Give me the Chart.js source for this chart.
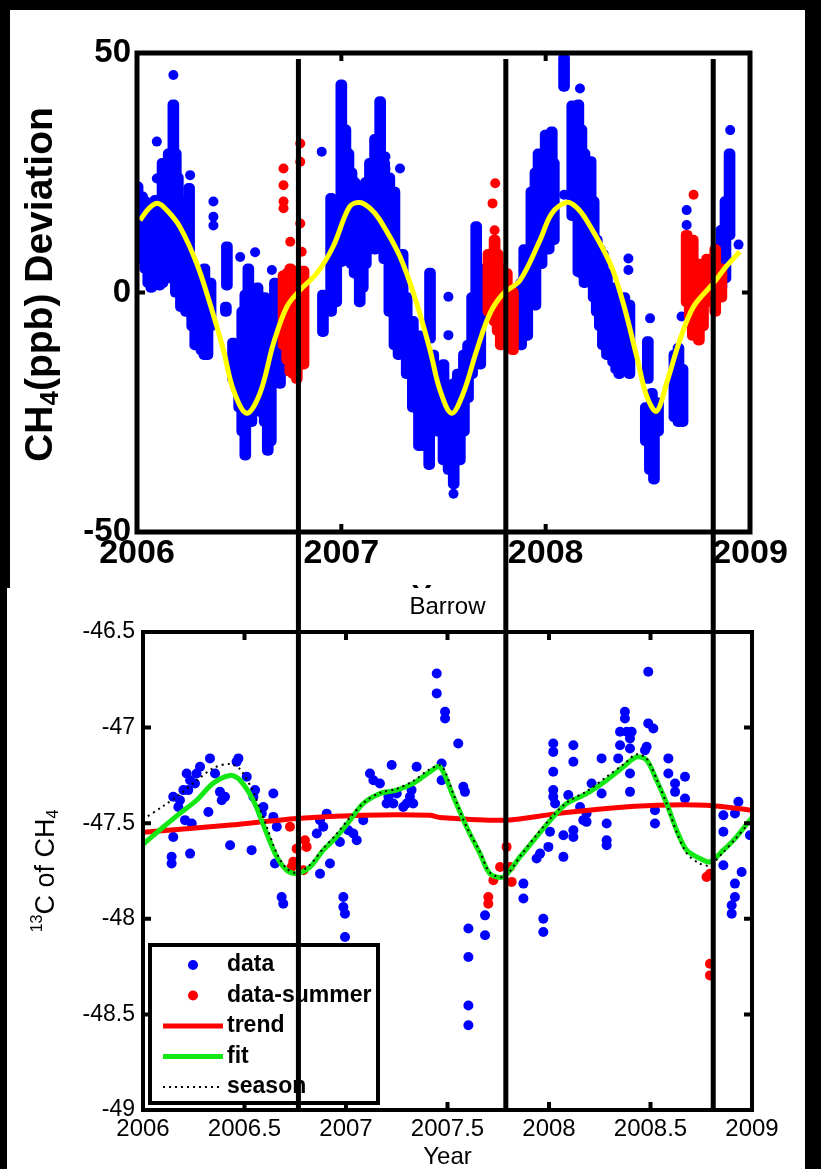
<!DOCTYPE html>
<html>
<head>
<meta charset="utf-8">
<script src="https://cdn.jsdelivr.net/npm/chart.js@4.4.1/dist/chart.umd.min.js"></script>
<style>
  html, body { margin: 0; padding: 0; background: #000; }
  body { width: 821px; height: 1169px; position: relative; overflow: hidden; }
  #topWrap { position: absolute; left: 10px; top: 10px; width: 795px; height: 578px; background: #fff; }
  #botWrap { position: absolute; left: 7px; top: 588px; width: 798px; height: 581px; background: #fff; }
  canvas { display: block; }
</style>
</head>
<body>
<div id="topWrap"><canvas id="topChart" width="795" height="578"></canvas></div>
<div id="botWrap"><canvas id="botChart" width="798" height="581"></canvas></div>
<script>
// ---- top panel: CH4 deviation (ppb) ----
const topYearTicks = [2006, 2007, 2008, 2009];
const topDevTicks = [-50, 0, 50];
// the three black vertical lines (year on the top panel scale)
const cutYears = [2006.79, 2007.805, 2008.82];

// vertical runs of overlapping dots: [year, low, high]
const blueStreaks = [
  [2006.003, 6.1, 23.1], [2006.025, 8, 21], [2006.04, 4, 20], [2006.055, 1, 19],
  [2006.07, 0, 18], [2006.09, 2, 20.3], [2006.11, 0.5, 16], [2006.125, 1, 28],
  [2006.14, 2, 22], [2006.155, 2, 30], [2006.178, 2, 40.2], [2006.19, -1, 30],
  [2006.20, 3, 25], [2006.215, -4, 20], [2006.255, -3.7, 22.8], [2006.24, -5, 10],
  [2006.27, -8, 6], [2006.285, -12, 2], [2006.30, -10, 5], [2006.315, -13, 0],
  [2006.33, -14, 6], [2006.345, -14, -2], [2006.36, -8, 3], [2006.44, 0.5, 10.6],
  [2006.435, -5, -2], [2006.47, -19, -9.5], [2006.50, -25, -10], [2006.515, -30, -3],
  [2006.53, -35, 0.5], [2006.545, -20, 6], [2006.56, -28, -5], [2006.59, -19, 2],
  [2006.61, -26, -8], [2006.625, -28, 0], [2006.64, -34, -7], [2006.655, -32, -10],
  [2006.675, -19, 3], [2006.69, -18, 2], [2006.70, -20, -5],
  [2006.91, -9.2, 0.5], [2006.95, -5, 20.7], [2006.975, -3, 15],
  [2007.0, 5.4, 44.4], [2007.02, 8, 35], [2007.035, 10, 30], [2007.05, 5, 26],
  [2007.065, 3, 24], [2007.09, -3, 21], [2007.105, 0, 20], [2007.12, 5, 24],
  [2007.14, 8, 28], [2007.165, 8, 33], [2007.19, 8.9, 40.9], [2007.21, 6, 28],
  [2007.235, -5, 25], [2007.26, -12, 22], [2007.28, -14, 8], [2007.30, -12, 9],
  [2007.32, -18, 0], [2007.35, -25, -5], [2007.38, -33, -8], [2007.40, -33, -10],
  [2007.43, -37, -14], [2007.434, -10.6, 5.1], [2007.45, -28, -12], [2007.47, -30, -15],
  [2007.5, -36, -14], [2007.525, -38, -20], [2007.55, -41, -18], [2007.57, -32, -16],
  [2007.58, -36, -16], [2007.60, -30, -12], [2007.62, -23, -10], [2007.64, -18, 0],
  [2007.66, -12, 14.8], [2007.68, -16, 6],
  [2007.88, -12, 3], [2007.895, -8, 10], [2007.91, -10, 7], [2007.93, -2, 22],
  [2007.95, -3.7, 26], [2007.965, 5, 30], [2007.98, 5, 24],
  [2008.0, 18.6, 33.9], [2008.015, 8, 30], [2008.03, 10.3, 34.6], [2008.04, 10, 28],
  [2008.09, 42, 50], [2008.13, 15, 40], [2008.16, 3.3, 40.2], [2008.175, 3, 35],
  [2008.19, 1, 30], [2008.205, 2, 28], [2008.22, 3.3, 28.4], [2008.235, -2, 20],
  [2008.25, -5, 12], [2008.265, -8, 10], [2008.28, -12, 9], [2008.30, -14, 5],
  [2008.33, -15.5, 2], [2008.345, -17, -3], [2008.36, -18, -5], [2008.385, -16, 0],
  [2008.41, -18, -1.6], [2008.49, -32, -23], [2008.50, -19, -9.2], [2008.51, -38, -23],
  [2008.52, -36, -20], [2008.53, -40, -24], [2008.55, -30, -22], [2008.63, -27, -12],
  [2008.65, -28, -10.6], [2008.67, -28, -15],
  [2008.86, 0, 14], [2008.88, 2, 20], [2008.9, 11, 30]
];
const blueDots = [
  [2006.097, 31.5], [2006.097, 23.8], [2006.178, 45.4], [2006.26, 24.5], [2006.276, -5],
  [2006.374, 19], [2006.374, 15.8], [2006.374, 14], [2006.505, 7.4], [2006.578, 8.4],
  [2006.66, 4.7], [2006.904, 29.4],
  [2007.216, 28.4], [2007.216, 25.9], [2007.287, 25.9], [2007.524, -0.9], [2007.524, -8.9],
  [2007.549, -42],
  [2008.09, 20.4], [2008.168, 42.6], [2008.405, 7.1], [2008.405, 4.7], [2008.511, -5.4],
  [2008.665, -5], [2008.69, 17.2], [2008.69, 14.1], [2008.903, 33.9], [2008.944, 10]
];
const redStreaks = [
  [2006.717, -12, 4.5], [2006.735, -15, 5], [2006.75, -17.5, 6], [2006.765, -18, 4],
  [2006.782, -19, 5.5], [2006.815, -16, 5.5],
  [2007.72, -5, 9], [2007.735, -3, 8], [2007.75, -7, 12], [2007.765, -9, 9], [2007.78, -12, 6],
  [2007.81, -9, 5], [2007.84, -13, 1],
  [2008.69, -3, 13], [2008.705, -6, 12], [2008.72, -10, 12], [2008.75, -11, 7],
  [2008.77, -8, 6], [2008.79, -3, 8], [2008.83, -5, 10], [2008.86, -2, 6]
];
const redDots = [
  [2006.717, 25.9], [2006.717, 22.4], [2006.717, 19], [2006.717, 17.6], [2006.799, 31.1],
  [2006.799, 27.3], [2006.799, 14.4], [2006.75, 10.6], [2006.806, 8.5],
  [2007.753, 22.8], [2007.74, 18.6], [2007.75, 13], [2008.724, 20.4]
];
const seasonalFit = [
  [2006.015, 15.1], [2006.06, 17.6], [2006.104, 18.6], [2006.15, 17], [2006.21, 13.7],
  [2006.292, 6.1], [2006.357, -2.3], [2006.423, -12], [2006.472, -20.4], [2006.537, -25.2],
  [2006.602, -21], [2006.668, -10.6], [2006.733, -3], [2006.798, 0.5], [2006.88, 4],
  [2006.96, 9.6], [2007.04, 17.9], [2007.091, 18.8], [2007.14, 17.6], [2007.189, 15.1],
  [2007.287, 7.5], [2007.369, -2.3], [2007.434, -12], [2007.483, -20.4], [2007.54, -25.2],
  [2007.597, -21], [2007.663, -12], [2007.728, -4.3], [2007.793, -0.2], [2007.875, 2.6],
  [2007.973, 11], [2008.03, 16.5], [2008.103, 18.8], [2008.15, 17.8], [2008.2, 15.1],
  [2008.315, 6.1], [2008.38, -2.3], [2008.446, -13.4], [2008.495, -21.7], [2008.543, -24.8],
  [2008.592, -18.9], [2008.657, -9.9], [2008.723, -3], [2008.82, 1.9], [2008.885, 5.5],
  [2008.95, 8.5]
];

// ---- bottom panel: Barrow d13C of CH4 ----
const botYearTicks = [2006, 2006.5, 2007, 2007.5, 2008, 2008.5, 2009];
const botIsoTicks = [-49, -48.5, -48, -47.5, -47, -46.5];
const isoData = [
  [2006.149, -47.362], [2006.182, -47.38], [2006.149, -47.572], [2006.141, -47.676],
  [2006.141, -47.711], [2006.232, -47.659], [2006.215, -47.24], [2006.232, -47.275],
  [2006.264, -47.24], [2006.281, -47.205], [2006.256, -47.292], [2006.199, -47.327],
  [2006.223, -47.327], [2006.174, -47.415], [2006.207, -47.484], [2006.24, -47.502],
  [2006.33, -47.161], [2006.355, -47.24], [2006.322, -47.441], [2006.379, -47.336],
  [2006.404, -47.362], [2006.388, -47.38], [2006.429, -47.615], [2006.47, -47.161],
  [2006.461, -47.179], [2006.511, -47.257], [2006.552, -47.327], [2006.544, -47.362],
  [2006.593, -47.415], [2006.585, -47.45], [2006.535, -47.641], [2006.642, -47.345],
  [2006.642, -47.467], [2006.659, -47.519], [2006.65, -47.711], [2006.683, -47.886],
  [2006.691, -47.921], [2006.872, -47.484], [2006.888, -47.519], [2006.856, -47.554],
  [2006.905, -47.45], [2006.921, -47.711], [2006.872, -47.764], [2006.97, -47.598],
  [2006.987, -47.886], [2006.987, -47.938], [2006.995, -47.973], [2006.995, -48.095],
  [2007.011, -47.537], [2007.036, -47.554], [2007.053, -47.589], [2007.085, -47.484],
  [2007.118, -47.24], [2007.135, -47.275], [2007.167, -47.292], [2007.225, -47.196],
  [2007.209, -47.362], [2007.233, -47.397], [2007.282, -47.415], [2007.315, -47.362],
  [2007.25, -47.345], [2007.348, -47.205], [2007.2, -47.397], [2007.299, -47.397],
  [2007.323, -47.327], [2007.331, -47.397], [2007.447, -46.717], [2007.447, -46.821],
  [2007.488, -46.917], [2007.488, -46.952], [2007.471, -47.275], [2007.471, -47.188],
  [2007.553, -47.083], [2007.578, -47.31], [2007.586, -47.336],
  [2007.603, -48.051], [2007.603, -48.2], [2007.603, -48.453], [2007.603, -48.557],
  [2007.685, -47.982], [2007.685, -48.086],
  [2007.874, -47.816], [2007.874, -47.894], [2007.939, -47.685], [2007.956, -47.659],
  [2007.997, -47.624], [2007.972, -48.0], [2007.972, -48.069], [2008.071, -47.676],
  [2008.005, -47.545], [2008.071, -47.563], [2008.12, -47.537], [2008.12, -47.572],
  [2008.095, -47.353], [2008.021, -47.083], [2008.021, -47.127], [2008.021, -47.231],
  [2008.021, -47.327], [2008.021, -47.362], [2008.03, -47.397], [2008.12, -47.092],
  [2008.12, -47.179], [2008.153, -47.415], [2008.185, -47.449], [2008.169, -47.484],
  [2008.185, -47.493], [2008.21, -47.292], [2008.259, -47.161], [2008.259, -47.345],
  [2008.284, -47.502], [2008.284, -47.589], [2008.284, -47.615], [2008.35, -47.092],
  [2008.374, -46.917], [2008.374, -46.952], [2008.35, -47.022], [2008.383, -47.022],
  [2008.407, -47.022], [2008.399, -47.057], [2008.341, -47.161], [2008.399, -47.109],
  [2008.399, -47.24], [2008.399, -47.336], [2008.489, -46.708], [2008.489, -46.978],
  [2008.514, -47.005], [2008.481, -47.1], [2008.473, -47.118], [2008.522, -47.432],
  [2008.522, -47.502], [2008.588, -47.161], [2008.588, -47.24], [2008.621, -47.292],
  [2008.621, -47.336], [2008.67, -47.257], [2008.67, -47.371], [2008.859, -47.458],
  [2008.859, -47.545], [2008.859, -47.72], [2008.933, -47.388], [2008.916, -47.449],
  [2008.99, -47.563], [2008.949, -47.755], [2008.916, -47.816], [2008.916, -47.886],
  [2008.9, -47.929], [2008.9, -47.973]
];
const isoSummer = [
  [2006.724, -47.519], [2006.798, -47.589], [2006.757, -47.633], [2006.806, -47.624],
  [2006.74, -47.702], [2006.79, -47.746], [2006.732, -47.729],
  [2007.791, -47.624], [2007.759, -47.729], [2007.808, -47.729], [2007.726, -47.798],
  [2007.816, -47.807], [2007.701, -47.886], [2007.701, -47.921],
  [2008.776, -47.781], [2008.793, -47.764], [2008.793, -48.235], [2008.793, -48.296]
];
const isoTrend = [
  [2006.0, -47.548], [2006.43, -47.51], [2006.757, -47.475], [2007.085, -47.458],
  [2007.413, -47.458], [2007.463, -47.47], [2007.791, -47.484], [2008.038, -47.45],
  [2008.284, -47.423], [2008.53, -47.406], [2008.776, -47.406], [2009.0, -47.432]
];
const isoFit = [
  [2006.0, -47.61], [2006.1, -47.52], [2006.18, -47.45], [2006.264, -47.38],
  [2006.347, -47.29], [2006.43, -47.25], [2006.478, -47.275], [2006.543, -47.38],
  [2006.61, -47.555], [2006.659, -47.676], [2006.708, -47.746], [2006.757, -47.764],
  [2006.823, -47.729], [2006.888, -47.641], [2006.954, -47.571], [2007.02, -47.484],
  [2007.085, -47.397], [2007.167, -47.345], [2007.249, -47.327], [2007.331, -47.292],
  [2007.413, -47.231], [2007.463, -47.205], [2007.529, -47.362], [2007.594, -47.52],
  [2007.66, -47.659], [2007.709, -47.764], [2007.775, -47.781], [2007.857, -47.676],
  [2007.939, -47.571], [2008.021, -47.467], [2008.087, -47.397], [2008.185, -47.345],
  [2008.284, -47.275], [2008.366, -47.205], [2008.432, -47.153], [2008.481, -47.17],
  [2008.53, -47.275], [2008.58, -47.397], [2008.629, -47.537], [2008.678, -47.641],
  [2008.744, -47.685], [2008.793, -47.702], [2008.859, -47.641], [2008.924, -47.571],
  [2009.0, -47.47]
];
const isoSeason = [
  [2006.0, -47.48], [2006.1, -47.41], [2006.18, -47.35], [2006.26, -47.28], [2006.35, -47.21],
  [2006.43, -47.19], [2006.48, -47.22], [2006.54, -47.33], [2006.61, -47.52], [2006.66, -47.66],
  [2006.71, -47.74], [2006.76, -47.76], [2006.82, -47.72], [2006.89, -47.63], [2006.95, -47.56],
  [2007.02, -47.47], [2007.09, -47.39], [2007.17, -47.34], [2007.25, -47.32], [2007.33, -47.28],
  [2007.41, -47.22], [2007.47, -47.2], [2007.53, -47.35], [2007.59, -47.51], [2007.66, -47.65],
  [2007.71, -47.76], [2007.78, -47.78], [2007.86, -47.67], [2007.94, -47.56], [2008.02, -47.46],
  [2008.09, -47.39], [2008.19, -47.33], [2008.28, -47.26], [2008.37, -47.19], [2008.43, -47.14],
  [2008.48, -47.16], [2008.53, -47.27], [2008.58, -47.40], [2008.63, -47.55], [2008.68, -47.66],
  [2008.74, -47.71], [2008.79, -47.72], [2008.86, -47.65], [2008.92, -47.58], [2009.0, -47.48]
];

const FONT = '"Liberation Sans", Arial, Helvetica, sans-serif';
const BLUE = '#0000ff', RED = '#ff0000', GREEN = '#14e814', YELLOW = '#ffff00';

const xy = arr => arr.map(p => ({ x: p[0], y: p[1] }));
const runs = arr => arr.map(p => ({ x: p[0], y: [p[1], p[2]] }));

function drawRich(ctx, parts, cx, cy, angle) {
  ctx.save();
  ctx.translate(cx, cy);
  ctx.rotate(angle);
  ctx.textAlign = 'left';
  ctx.textBaseline = 'middle';
  ctx.fillStyle = '#000';
  let total = 0;
  parts.forEach(p => { ctx.font = p.font; p.w = ctx.measureText(p.text).width; total += p.w; });
  let x = -total / 2;
  parts.forEach(p => { ctx.font = p.font; ctx.fillText(p.text, x, p.dy || 0); x += p.w; });
  ctx.restore();
}

function drawLegend(chart, lg) {
  const ctx = chart.ctx;
  ctx.save();
  ctx.fillStyle = '#fff';
  ctx.fillRect(lg.left, lg.top, lg.width, lg.height);
  ctx.lineWidth = 4;
  ctx.strokeStyle = '#000';
  ctx.strokeRect(lg.left, lg.top, lg.width, lg.height);
  ctx.font = 'bold 23px ' + FONT;
  ctx.textBaseline = 'middle';
  chart.data.datasets.slice().reverse().forEach((ds, i) => {
    const y = lg.top + lg.firstRow + i * lg.rowGap;
    if (ds.showLine) {
      ctx.beginPath();
      ctx.strokeStyle = ds.borderColor;
      ctx.lineWidth = ds.borderWidth;
      ctx.setLineDash(ds.borderDash || []);
      ctx.moveTo(lg.left + 13, y);
      ctx.lineTo(lg.left + 73, y);
      ctx.stroke();
      ctx.setLineDash([]);
    } else {
      ctx.beginPath();
      ctx.fillStyle = ds.backgroundColor;
      ctx.arc(lg.left + 43, y, 5, 0, Math.PI * 2);
      ctx.fill();
    }
    ctx.fillStyle = '#000';
    ctx.fillText(ds.label, lg.left + 77, y);
  });
  ctx.restore();
}

const framePlugin = {
  id: 'framePlugin',
  afterDatasetsDraw(chart, args, o) {
    const { ctx, chartArea: a, scales } = chart;
    ctx.save();
    if (o.legend) drawLegend(chart, o.legend);
    ctx.strokeStyle = '#000';
    ctx.lineWidth = o.tickWidth;
    ctx.beginPath();
    scales.x.ticks.forEach(t => {
      const x = scales.x.getPixelForValue(t.value);
      ctx.moveTo(x, a.bottom); ctx.lineTo(x, a.bottom - o.tickLen);
      ctx.moveTo(x, a.top); ctx.lineTo(x, a.top + o.tickLen);
    });
    scales.y.ticks.forEach(t => {
      const y = scales.y.getPixelForValue(t.value);
      ctx.moveTo(a.left, y); ctx.lineTo(a.left + o.tickLen, y);
      ctx.moveTo(a.right, y); ctx.lineTo(a.right - o.tickLen, y);
    });
    ctx.stroke();
    ctx.lineWidth = o.frameWidth;
    ctx.strokeRect(a.left, a.top, a.right - a.left, a.bottom - a.top);
    // black vertical cut lines, shared by both panels
    ctx.lineWidth = 5;
    ctx.beginPath();
    o.cuts(chart).forEach(c => { ctx.moveTo(c.x, c.y0); ctx.lineTo(c.x, c.y1); });
    ctx.stroke();
    ctx.restore();
  },
  afterDraw(chart, args, o) {
    if (o.texts) o.texts(chart);
  }
};

function fixedAxis(size, horizontal) {
  return scale => {
    if (horizontal) scale.height = size; else scale.width = size;
    scale.paddingLeft = scale.paddingRight = scale.paddingTop = scale.paddingBottom = 0;
  };
}

const topChart = new Chart(document.getElementById('topChart'), {
  type: 'scatter',
  data: {
    datasets: [
      { type: 'line', label: 'fit', data: xy(seasonalFit), showLine: true, borderColor: YELLOW,
        borderWidth: 5, pointRadius: 0, tension: 0.35, fill: false },
      { label: 'summer', data: xy(redDots), backgroundColor: RED, pointRadius: 5, borderWidth: 0 },
      { type: 'bar', label: 'summer runs', data: runs(redStreaks), backgroundColor: RED,
        barThickness: 11, borderRadius: 5, borderSkipped: false, grouped: false },
      { label: 'data', data: xy(blueDots), backgroundColor: BLUE, pointRadius: 5, borderWidth: 0 },
      { type: 'bar', label: 'data runs', data: runs(blueStreaks), backgroundColor: BLUE,
        barThickness: 11, borderRadius: 5, borderSkipped: false, grouped: false }
    ]
  },
  options: {
    responsive: false,
    animation: false,
    devicePixelRatio: 1,
    layout: { padding: { left: 0, right: 55, top: 43, bottom: 0 } },
    plugins: {
      legend: { display: false },
      tooltip: { enabled: false },
      framePlugin: {
        tickLen: 8, tickWidth: 4, frameWidth: 5,
        cuts: ch => cutYears.map(v => ({ x: ch.scales.x.getPixelForValue(v), y0: ch.chartArea.top + 6, y1: ch.height })),
        texts: ch => {
          const ctx = ch.ctx, a = ch.chartArea;
          drawRich(ctx, [
            { text: 'CH', font: 'bold 39px ' + FONT },
            { text: '4', font: 'bold 26px ' + FONT, dy: 10 },
            { text: '(ppb) Deviation', font: 'bold 39px ' + FONT }
          ], 31, (a.top + a.bottom) / 2 - 8, -Math.PI / 2);
          ctx.save();
          ctx.font = 'bold 30px ' + FONT;
          ctx.textAlign = 'center';
          ctx.textBaseline = 'top';
          ctx.fillStyle = '#000';
          ctx.fillText('Year', (a.left + a.right) / 2, ch.height - 6);
          ctx.restore();
        }
      }
    },
    scales: {
      x: {
        type: 'linear', min: 2006, max: 2009, offset: false,
        afterBuildTicks: s => { s.ticks = topYearTicks.map(v => ({ value: v })); },
        afterFit: fixedAxis(56, true),
        grid: { display: false, drawTicks: false }, border: { display: false },
        ticks: { autoSkip: false, maxRotation: 0, padding: 1, color: '#000',
          font: { family: FONT, size: 34, weight: 'bold' }, callback: v => String(v) }
      },
      y: {
        type: 'linear', min: -50, max: 50,
        afterBuildTicks: s => { s.ticks = topDevTicks.map(v => ({ value: v })); },
        afterFit: fixedAxis(127, false),
        grid: { display: false, drawTicks: false }, border: { display: false },
        ticks: { padding: 6, color: '#000',
          font: { family: FONT, size: 33, weight: 'bold' }, callback: v => String(v) }
      }
    }
  },
  plugins: [framePlugin]
});

new Chart(document.getElementById('botChart'), {
  type: 'scatter',
  data: {
    datasets: [
      { type: 'line', label: 'season', data: xy(isoSeason), showLine: true, borderColor: '#000',
        borderWidth: 2, borderDash: [2, 4], pointRadius: 0, tension: 0.3, fill: false },
      { type: 'line', label: 'fit', data: xy(isoFit), showLine: true, borderColor: GREEN,
        borderWidth: 5, pointRadius: 0, tension: 0.3, fill: false },
      { type: 'line', label: 'trend', data: xy(isoTrend), showLine: true, borderColor: RED,
        borderWidth: 5, pointRadius: 0, tension: 0.3, fill: false },
      { label: 'data-summer', data: xy(isoSummer), backgroundColor: RED, pointRadius: 5, borderWidth: 0 },
      { label: 'data', data: xy(isoData), backgroundColor: BLUE, pointRadius: 5, borderWidth: 0 }
    ]
  },
  options: {
    responsive: false,
    animation: false,
    devicePixelRatio: 1,
    layout: { padding: { left: 0, right: 53, top: 44, bottom: 0 } },
    plugins: {
      legend: { display: false },
      tooltip: { enabled: false },
      framePlugin: {
        tickLen: 8, tickWidth: 4, frameWidth: 4,
        legend: { left: 143, top: 357, width: 228, height: 158, firstRow: 20, rowGap: 30.5 },
        cuts: ch => cutYears.map(v => ({
          x: topChart.scales.x.getPixelForValue(v) + 10 - 7, y0: 0, y1: ch.chartArea.bottom
        })),
        texts: ch => {
          const ctx = ch.ctx, a = ch.chartArea;
          ctx.save();
          ctx.fillStyle = '#000';
          ctx.textAlign = 'center';
          ctx.textBaseline = 'middle';
          ctx.font = '24px ' + FONT;
          ctx.fillText('Barrow', (a.left + a.right) / 2, 19);
          ctx.font = '24px ' + FONT;
          ctx.fillText('Year', (a.left + a.right) / 2, ch.height - 12);
          ctx.restore();
          drawRich(ctx, [
            { text: '13', font: '16px ' + FONT, dy: -9 },
            { text: 'C of CH', font: '27px ' + FONT },
            { text: '4', font: '16px ' + FONT, dy: 7 }
          ], 40, (a.top + a.bottom) / 2, -Math.PI / 2);
        }
      }
    },
    scales: {
      x: {
        type: 'linear', min: 2006, max: 2009, offset: false,
        afterBuildTicks: s => { s.ticks = botYearTicks.map(v => ({ value: v })); },
        afterFit: fixedAxis(59, true),
        grid: { display: false, drawTicks: false }, border: { display: false },
        ticks: { autoSkip: false, maxRotation: 0, padding: 5, color: '#000',
          font: { family: FONT, size: 24 }, callback: v => String(v) }
      },
      y: {
        type: 'linear', min: -49, max: -46.5,
        afterBuildTicks: s => { s.ticks = botIsoTicks.map(v => ({ value: v })); },
        afterFit: fixedAxis(136, false),
        grid: { display: false, drawTicks: false }, border: { display: false },
        ticks: { padding: 8, color: '#000',
          font: { family: FONT, size: 23 }, callback: v => String(v) }
      }
    }
  },
  plugins: [framePlugin]
});
</script>
</body>
</html>
